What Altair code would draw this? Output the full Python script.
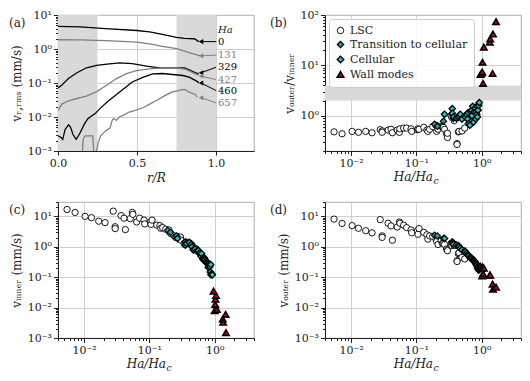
import altair as alt
import pandas as pd

# ---------------- panel (a): radial profiles of v_r,rms ----------------
HA = ["0", "131", "329", "427", "460", "657"]
HA_COLOR = ["#000000", "#808080", "#000000", "#808080", "#000000", "#808080"]

R_HA0 = [0.0, 0.14, 0.3, 0.5, 0.58, 0.66, 0.75, 0.8, 0.86, 0.875, 0.89]
V_HA0 = [4.6, 4.5, 4.0, 3.5, 3.2, 2.7, 2.2, 2.06, 2.0, 1.85, 1.65]
R_HA131 = [0.0, 0.14, 0.3, 0.5, 0.58, 0.66, 0.75, 0.83, 0.9]
V_HA131 = [1.87, 1.85, 1.76, 1.6, 1.41, 1.19, 1.02, 0.78, 0.63]
R_HA329 = [0.0, 0.025, 0.066, 0.12, 0.18, 0.245, 0.31, 0.39, 0.47, 0.56, 0.64, 0.725, 0.8, 0.83, 0.87, 0.89]
V_HA329 = [0.072, 0.087, 0.135, 0.2, 0.28, 0.33, 0.36, 0.39, 0.37, 0.315, 0.28, 0.28, 0.28, 0.245, 0.2, 0.19]
R_HA427 = [0.0, 0.025, 0.066, 0.12, 0.18, 0.245, 0.31, 0.37, 0.43, 0.495, 0.58, 0.66, 0.75, 0.81, 0.87, 0.89]
V_HA427 = [0.0155, 0.024, 0.03, 0.035, 0.041, 0.056, 0.087, 0.135, 0.185, 0.23, 0.26, 0.28, 0.28, 0.25, 0.185, 0.17]
R_HA460 = [0.0, 0.02, 0.03, 0.045, 0.067, 0.08, 0.094, 0.115, 0.135, 0.15, 0.17, 0.19, 0.235, 0.275,
           0.32, 0.37, 0.42, 0.47, 0.54, 0.6, 0.66, 0.725, 0.79, 0.83, 0.88, 0.89]
V_HA460 = [0.0028, 0.0025, 0.0022, 0.0043, 0.0059, 0.005, 0.0031, 0.0022, 0.0031, 0.0043, 0.0066, 0.009,
           0.0126, 0.0195, 0.03, 0.046, 0.07, 0.107, 0.148, 0.185, 0.19, 0.178, 0.166, 0.148, 0.112, 0.1]
R_HA657 = [0.15, 0.16, 0.17, 0.22, 0.23, 0.255, 0.27, 0.30, 0.33, 0.34, 0.35, 0.37, 0.39, 0.41, 0.45,
           0.495, 0.54, 0.58, 0.62, 0.67, 0.72, 0.78, 0.8, 0.83, 0.87, 0.88]
V_HA657 = [0.0005, 0.0022, 0.0028, 0.0028, 0.0005, 0.0018, 0.0028, 0.0039, 0.0048, 0.0074, 0.009, 0.008,
           0.0102, 0.011, 0.014, 0.016, 0.019, 0.024, 0.03, 0.041, 0.054, 0.063, 0.065, 0.054, 0.046, 0.038]

LABEL_Y = [1.65, 0.66, 0.29, 0.125, 0.06, 0.026]
ARROW_END_Y = [1.65, 0.63, 0.2, 0.16, 0.1, 0.037]
HEADER_Y = 3.7
SHADE_R0 = [0.0, 0.75]
SHADE_R1 = [0.25, 1.0]

# ---------------- panels (b)-(d): scatter data ----------------
CATS = ["LSC", "Transition to cellular", "Cellular", "Wall modes"]
FILLS = ["#ffffff", "#2f9595", "#22cccc", "#c80000"]
SHAPES = ["circle", "diamond", "diamond", "triangle-up"]

LSC_X = [0.0055, 0.0073, 0.0104, 0.013, 0.0168, 0.021, 0.028, 0.030, 0.030, 0.037, 0.041, 0.043,
         0.051, 0.055, 0.056, 0.064, 0.071, 0.083, 0.085, 0.104, 0.106, 0.11, 0.13, 0.145,
         0.15, 0.16, 0.178, 0.20, 0.205, 0.215, 0.24, 0.25, 0.26, 0.27, 0.29, 0.30,
         0.30, 0.34, 0.35, 0.38, 0.42, 0.42, 0.44, 0.45, 0.5, 0.55]
LSC_INNER = [17.0, 13.6, 10.1, 9.1, 7.0, 6.3, 15.0, 4.6, 4.0, 10.7, 8.8, 3.7,
             8.5, 13.6, 11.8, 6.6, 8.8, 7.6, 5.7, 6.6, 5.5, 7.6, 5.2, 5.0,
             4.1, 4.3, 3.8, 3.6, 3.0, 2.7, 2.3, 2.1, 2.0, 2.2, 2.0, 2.1,
             1.7, 1.3, 1.2, 1.4, 1.3, 1.25, 1.2, 1.1, 0.9, 0.7]
LSC_OUTER = [8.2, 5.9, 5.0, 4.1, 3.4, 2.9, 7.9, 2.3, 2.05, 6.0, 4.9, 1.65,
             4.5, 6.6, 6.0, 5.2, 4.3, 3.6, 2.9, 3.4, 2.6, 4.0, 3.0, 2.5,
             1.8, 2.3, 2.2, 1.8, 1.5, 1.2, 1.6, 1.3, 1.3, 1.2, 0.85, 0.8,
             0.75, 1.3, 1.1, 1.1, 0.35, 0.33, 0.6, 0.64, 0.45, 0.4]
LSC_RATIO = [0.48, 0.44, 0.49, 0.47, 0.49, 0.46, 0.53, 0.50, 0.47, 0.52, 0.54, 0.46,
             0.52, 0.47, 0.55, 0.57, 0.57, 0.55, 0.49, 0.53, 0.55, 0.54, 0.59, 0.52,
             0.49, 0.54, 0.61, 0.65, 0.49, 0.54, 0.62, 0.60, 0.59, 0.54, 0.44, 0.37,
             0.45, 1.0, 0.93, 0.8, 0.28, 0.27, 0.48, 0.49, 0.5, 0.57]

TRN_X = [0.19, 0.21, 0.26, 0.37]
TRN_INNER = [3.5, 3.0, 2.3, 1.4]
TRN_OUTER = [2.4, 2.3, 1.9, 1.35]
TRN_RATIO = [0.68, 0.62, 0.78, 0.88]

CEL_X = [0.27, 0.355, 0.355, 0.37, 0.41, 0.44, 0.45, 0.47, 0.50, 0.55, 0.56, 0.59,
         0.61, 0.62, 0.63, 0.66, 0.68, 0.70, 0.71, 0.73, 0.75, 0.77, 0.79, 0.80,
         0.81, 0.84, 0.84, 0.86, 0.87, 0.88, 0.90, 0.92]
CEL_INNER = [1.9, 1.45, 1.15, 1.3, 1.4, 1.2, 1.0, 0.8, 0.85, 0.8, 0.75, 0.63,
             0.55, 0.49, 0.6, 0.39, 0.45, 0.42, 0.38, 0.33, 0.30, 0.30, 0.285, 0.21,
             0.25, 0.27, 0.22, 0.15, 0.26, 0.12, 0.13, 0.12]
CEL_OUTER = [1.9, 1.45, 1.3, 1.2, 1.15, 1.1, 1.0, 0.9, 0.8, 0.72, 0.7, 0.62,
             0.55, 0.55, 0.5, 0.45, 0.44, 0.4, 0.42, 0.38, 0.35, 0.35, 0.32, 0.30,
             0.28, 0.27, 0.25, 0.22, 0.2, 0.19, 0.17, 0.18]
CEL_RATIO = [1.07, 1.38, 1.12, 0.95, 0.9, 0.93, 1.0, 1.07, 0.86, 1.0, 0.95, 1.05,
             0.86, 1.15, 0.7, 0.65, 1.2, 1.29, 1.0, 1.54, 0.75, 1.2, 1.4, 1.15,
             0.86, 1.54, 1.07, 0.95, 1.29, 1.3, 1.6, 1.83]

WAL_X = [0.96, 1.0, 1.02, 1.03, 1.05, 1.08, 1.33, 1.35, 1.47, 1.49, 1.66]
WAL_INNER = [0.035, 0.0079, 0.0128, 0.019, 0.025, 0.0087, 0.0042, 0.0033, 0.006, 0.0015, 0.00064]
WAL_OUTER = [0.23, 0.2, 0.11, 0.22, 0.13, 0.2, 0.117, 0.117, 0.059, 0.04, 0.047]
WAL_RATIO = [6.6, 7.0, 7.4, 11.5, 4.4, 23.0, 29.0, 33.5, 6.9, 42.0, 74.0]

BAND_LO, BAND_HI = 2.0, 4.0

# ---------------- helpers ----------------
FONT = "DejaVu Serif"
W, H = 196, 136

MAJOR = "abs(log(datum.value)/LN10 - round(log(datum.value)/LN10)) < 0.001"
E = "round(log(datum.value)/LN10)"
SUP = (f"({E} == -3 ? '⁻³' : {E} == -2 ? '⁻²' : {E} == -1 ? '⁻¹' : "
       f"{E} == 0 ? '⁰' : {E} == 1 ? '¹' : '²')")
LOG_LABEL = f"{MAJOR} ? '10' + {SUP} : ''"


def log_values(lo, hi):
    vals = []
    for e in range(-4, 3):
        for k in range(1, 10):
            v = round(k * 10 ** e, 10)
            if lo - 1e-12 <= v <= hi + 1e-12:
                vals.append(v)
    return vals


def log_axis(lo, hi, title=None):
    return alt.Axis(
        values=log_values(lo, hi),
        labelExpr=LOG_LABEL,
        labelOverlap=False,
        labelFlush=False,
        tickSize={"condition": {"test": MAJOR, "value": 4.5}, "value": 2.5},
        gridOpacity={"condition": {"test": MAJOR, "value": 1}, "value": 0},
        title=title,
    )


def panel_label(text, dx):
    return alt.Chart(pd.DataFrame({"t": [text]})).mark_text(
        font=FONT, fontSize=12, align="left", baseline="middle", color="#222"
    ).encode(text="t:N", x=alt.value(dx), y=alt.value(8))


# ---------------- panel (a) ----------------
rows = []
for ha, rs, vs in zip(HA, [R_HA0, R_HA131, R_HA329, R_HA427, R_HA460, R_HA657],
                      [V_HA0, V_HA131, V_HA329, V_HA427, V_HA460, V_HA657]):
    for i, (r, v) in enumerate(zip(rs, vs)):
        rows.append({"ha": ha, "i": i, "r": r, "v": v})
curves_df = pd.DataFrame(rows)

xa = alt.Scale(domain=[0, 1.24], nice=False, zero=False)
ya = alt.Scale(type="log", domain=[0.001, 10], nice=False)
ha_color = alt.Scale(domain=HA, range=HA_COLOR)

shade_a = alt.Chart(pd.DataFrame({"r": SHADE_R0, "r2": SHADE_R1})).mark_rect(
    color="#d9d9d9").encode(x=alt.X("r:Q", scale=xa), x2="r2:Q", y=alt.value(0), y2=alt.value(H))

curves = alt.Chart(curves_df).mark_line(clip=True, strokeWidth=1.3).encode(
    x=alt.X("r:Q", scale=xa, axis=alt.Axis(values=[0, 0.5, 1.0], format=".1f", title="r/R",
                                           titleFontStyle="italic", labelFlush=False, tickSize=4)),
    y=alt.Y("v:Q", scale=ya, axis=log_axis(0.001, 10, "vᵣ,ᵣₘₛ (mm/s)")),
    color=alt.Color("ha:N", scale=ha_color, legend=None),
    order="i:Q",
)

arrow_df = pd.DataFrame({"ha": HA, "r": [1.0] * 6, "v": LABEL_Y,
                         "r2": [0.905] * 6, "v2": ARROW_END_Y})
arrows = alt.Chart(arrow_df).mark_rule(strokeWidth=1).encode(
    x=alt.X("r:Q", scale=xa), y=alt.Y("v:Q", scale=ya), x2="r2:Q", y2="v2:Q",
    color=alt.Color("ha:N", scale=ha_color, legend=None))
heads = alt.Chart(arrow_df).mark_point(shape="triangle-left", filled=True, size=26, opacity=1).encode(
    x=alt.X("r2:Q", scale=xa), y=alt.Y("v2:Q", scale=ya),
    color=alt.Color("ha:N", scale=ha_color, legend=None))

label_df = pd.DataFrame({"ha": HA, "r": [1.012] * 6, "v": LABEL_Y})
ha_labels = alt.Chart(label_df).mark_text(font=FONT, fontSize=10, align="left", baseline="middle").encode(
    x=alt.X("r:Q", scale=xa), y=alt.Y("v:Q", scale=ya), text="ha:N",
    color=alt.Color("ha:N", scale=ha_color, legend=None))
header = alt.Chart(pd.DataFrame({"r": [1.012], "v": [HEADER_Y], "t": ["Ha"]})).mark_text(
    font=FONT, fontSize=10, fontStyle="italic", align="left", baseline="middle", color="#222").encode(
    x=alt.X("r:Q", scale=xa), y=alt.Y("v:Q", scale=ya), text="t:N")

panel_a = alt.layer(shade_a, curves, arrows, heads, ha_labels, header,
                    panel_label("(a)", -49)).properties(width=W, height=H)

# ---------------- panels (b), (c), (d) ----------------
parts = []
for cat, xs, ins, outs, rats in [
    ("LSC", LSC_X, LSC_INNER, LSC_OUTER, LSC_RATIO),
    ("Transition to cellular", TRN_X, TRN_INNER, TRN_OUTER, TRN_RATIO),
    ("Cellular", CEL_X, CEL_INNER, CEL_OUTER, CEL_RATIO),
    ("Wall modes", WAL_X, WAL_INNER, WAL_OUTER, WAL_RATIO),
]:
    parts.append(pd.DataFrame({"cat": cat, "x": xs, "inner": ins, "outer": outs, "ratio": rats}))
pts = pd.concat(parts, ignore_index=True)

XDOM = [0.004, 4]
xs_log = alt.Scale(type="log", domain=XDOM, nice=False)


def x_title_marks():
    d = pd.DataFrame({"t": ["Ha/Ha"], "s": ["c"]})
    main = alt.Chart(d).mark_text(font=FONT, fontSize=12, fontStyle="italic", align="right",
                                  baseline="alphabetic", color="#222").encode(
        text="t:N", x=alt.value(W / 2 + 10), y=alt.value(H + 30))
    sub = alt.Chart(d).mark_text(font=FONT, fontSize=9, fontStyle="italic", align="left",
                                 baseline="alphabetic", color="#222").encode(
        text="s:N", x=alt.value(W / 2 + 10.5), y=alt.value(H + 33))
    return [main, sub]


def scatter(field, ydom, ytitle, letter, legend):
    layers = []
    if legend is not None:
        band = alt.Chart(pd.DataFrame({field: [BAND_LO], "hi": [BAND_HI]})).mark_rect(
            color="#d9d9d9").encode(
            y=alt.Y(f"{field}:Q", scale=alt.Scale(type="log", domain=ydom, nice=False)),
            y2="hi:Q", x=alt.value(0), x2=alt.value(W))
        layers.append(band)
    pts_layer = alt.Chart(pts).mark_point(filled=True, clip=True, size=40, opacity=1).encode(
        x=alt.X("x:Q", scale=xs_log, axis=log_axis(XDOM[0], XDOM[1], None)),
        y=alt.Y(f"{field}:Q", scale=alt.Scale(type="log", domain=ydom, nice=False),
                axis=log_axis(ydom[0], ydom[1], ytitle)),
        fill=alt.Fill("cat:N", scale=alt.Scale(domain=CATS, range=FILLS), legend=legend),
        shape=alt.Shape("cat:N", scale=alt.Scale(domain=CATS, range=SHAPES), legend=legend),
        stroke=alt.Stroke("cat:N", scale=alt.Scale(domain=CATS, range=["#000000"] * 4), legend=legend),
        strokeWidth=alt.StrokeWidth("cat:N", scale=alt.Scale(domain=CATS, range=[0.9, 1.6, 0.9, 0.9]),
                                    legend=None),
    )
    layers.append(pts_layer)
    layers += x_title_marks()
    layers.append(panel_label(letter, -55 if letter in ("(b)", "(d)") else -49))
    return alt.layer(*layers).properties(width=W, height=H)


legend_b = alt.Legend(orient="top-left", title=None, offset=4, padding=6,
                      fillColor="rgba(255,255,255,0.85)", strokeColor="#cccccc", cornerRadius=3,
                      labelFont=FONT, labelFontSize=11, labelColor="#222", symbolSize=42,
                      symbolStrokeWidth=0.9, rowPadding=2)

panel_b = scatter("ratio", [0.2, 100], "vₒᵤₜₑᵣ/vᵢₙₙₑᵣ", "(b)", legend_b)
panel_c = scatter("inner", [0.001, 30], "vᵢₙₙₑᵣ (mm/s)", "(c)", None)
panel_d = scatter("outer", [0.001, 30], "vₒᵤₜₑᵣ (mm/s)", "(d)", None)

chart = alt.concat(panel_a, panel_b, panel_c, panel_d, columns=2,
                   spacing={"row": 8, "column": 14}).resolve_scale(
    x="independent", y="independent", fill="independent", shape="independent",
    stroke="independent", strokeWidth="independent", color="independent"
).properties(padding=0).configure_axis(
    labelFont=FONT, labelFontSize=11, titleFont=FONT, titleFontSize=12, titleFontWeight="normal",
    domainColor="#222", tickColor="#222", labelColor="#222", titleColor="#222",
    gridColor="#c4c4c4", gridWidth=0.8, labelPadding=2, titlePadding=4
).configure_view(stroke="#9a9a9a", strokeWidth=0.8)

chart.save("out.html", embed_options={"renderer": "svg", "actions": False})
